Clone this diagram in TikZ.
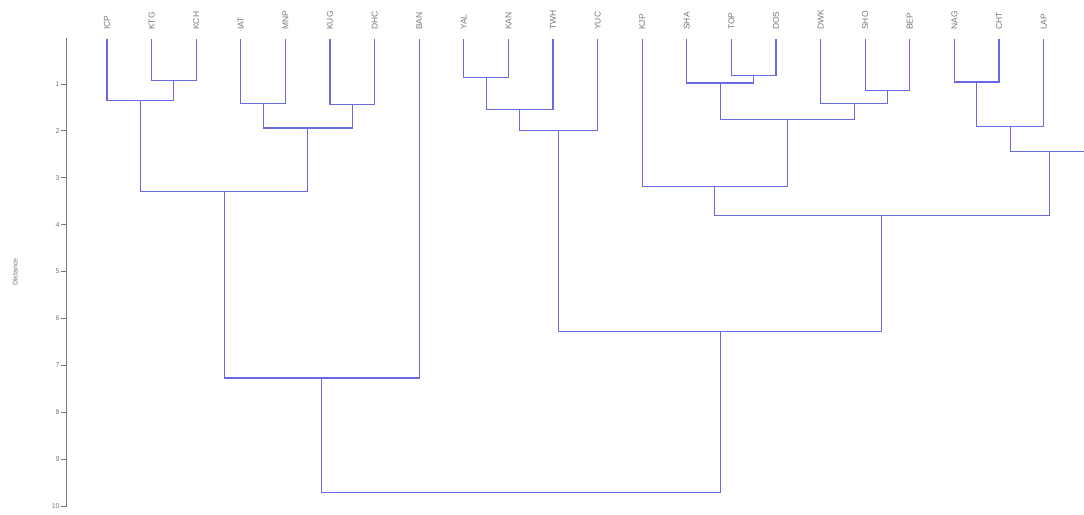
\documentclass[tikz,border=0pt]{standalone}
\usepackage{fontspec}
\setmainfont{Liberation Sans}
\usetikzlibrary{calc}
\definecolor{linkblue}{RGB}{104,104,224}
\definecolor{axisgrey}{RGB}{120,120,120}
\newcommand{\joinleaves}[4]{%
  \coordinate (tmp) at ($(#2)!0.5!(#3)$);
  \coordinate (#1) at (tmp |- 0,#4);
  \draw[link] (#2) |- (#1) -| (#3);
}
\begin{document}
\begin{tikzpicture}[x=1pt, y=-1pt,
    link/.style={linkblue, line width=1.1pt},
    leaflabel/.style={rotate=90, anchor=west, inner sep=0pt, font=\fontsize{8.5}{8.5}\selectfont, text=axisgrey},
    ticklabel/.style={anchor=east, inner sep=1pt, font=\fontsize{7}{7}\selectfont, text=axisgrey}]
\useasboundingbox (0,0) rectangle (1084,514);
\clip (0,0) rectangle (1084,514);

\draw[axisgrey, line width=1pt] (66,38) -- (66,507);
\foreach \d in {1,...,10}
  {\draw[axisgrey, line width=0.8pt] (66,{37+46.9*\d}) -- (61,{37+46.9*\d})
     node[ticklabel] (tick\d) {\d};}
\node[rotate=90, font=\fontsize{7}{7}\selectfont, text=axisgrey] (ylab) at (15,272) {Distance};

\begin{scope}[shift={(107,37)}, x=44.6pt, y=-46.9pt]
\foreach \name [count=\i from 0] in {ICP,KTG,KCH,IAT,MNP,KUG,DHC,BAN,YAL,KAN,TWH,YUC,KJP,SHA,TOP,DOS,DWK,SHO,BEP,NAG,CHT,LAP,COL}
  {\coordinate (\name) at (\i,0.04);
   \node[leaflabel] (lab\name) at (\i,-0.15) {\name};}

\joinleaves{m1}{KTG}{KCH}{0.92}
\joinleaves{m2}{ICP}{m1}{1.36}
\joinleaves{m3}{IAT}{MNP}{1.41}
\joinleaves{m4}{KUG}{DHC}{1.43}
\joinleaves{m5}{m3}{m4}{1.94}
\joinleaves{m6}{m2}{m5}{3.30}
\joinleaves{m7}{m6}{BAN}{7.27}

\joinleaves{m8}{YAL}{KAN}{0.87}
\joinleaves{m9}{m8}{TWH}{1.54}
\joinleaves{m10}{m9}{YUC}{2.00}

\joinleaves{m11}{TOP}{DOS}{0.83}
\joinleaves{m12}{SHA}{m11}{0.98}
\joinleaves{m13}{SHO}{BEP}{1.15}
\joinleaves{m14}{DWK}{m13}{1.41}
\joinleaves{m15}{m12}{m14}{1.75}
\joinleaves{m16}{KJP}{m15}{3.18}

\joinleaves{m17}{NAG}{CHT}{0.96}
\joinleaves{m18}{m17}{LAP}{1.90}
\joinleaves{m19}{m18}{COL}{2.45}

\joinleaves{m20}{m16}{m19}{3.80}
\joinleaves{m21}{m10}{m20}{6.27}
\joinleaves{m22}{m7}{m21}{9.72}
\end{scope}
\end{tikzpicture}
\end{document}
